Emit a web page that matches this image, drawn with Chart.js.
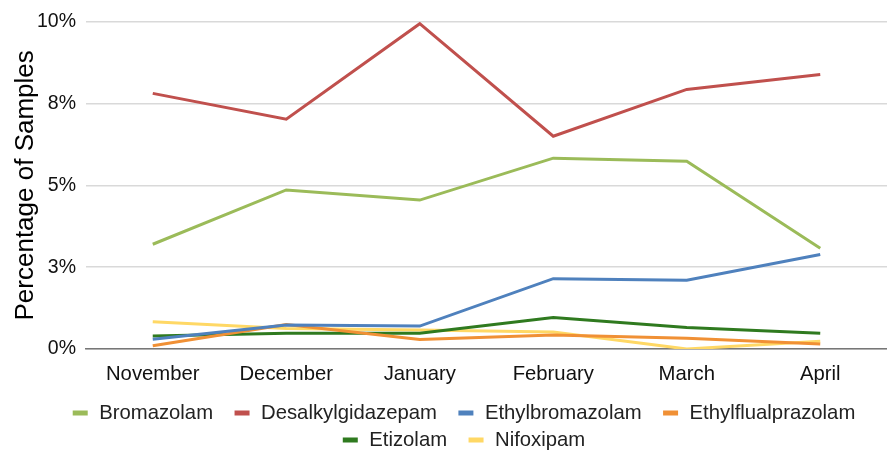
<!DOCTYPE html>
<html>
<head>
<meta charset="utf-8">
<script src="https://cdn.jsdelivr.net/npm/chart.js@4"></script>
<style>
  html, body { margin: 0; padding: 0; background: #fff; }
  #chart { display: block; }
</style>
</head>
<body>
<canvas id="chart" width="887" height="451"></canvas>
<script>
// months on the x axis
const months = ["November", "December", "January", "February", "March", "April"];

// percentage of samples
const bromazolam = [3.2, 4.86, 4.55, 5.83, 5.74, 3.08];
const desalkylgidazepam = [7.81, 7.02, 9.94, 6.5, 7.93, 8.39];
const ethylbromazolam = [0.3, 0.73, 0.7, 2.15, 2.1, 2.89];
const ethylflualprazolam = [0.1, 0.75, 0.29, 0.43, 0.33, 0.15];
const etizolam = [0.4, 0.48, 0.48, 0.96, 0.66, 0.48];
const nifoxipam = [0.83, 0.63, 0.58, 0.52, 0.0, 0.24];

const yTickValues = [0, 2.5, 5, 7.5, 10];
const yTickLabels = ["0%", "3%", "5%", "8%", "10%"];

const series = [
    { label: "Bromazolam", data: bromazolam, color: "#9BBB59" },
    { label: "Desalkylgidazepam", data: desalkylgidazepam, color: "#C0504D" },
    { label: "Ethylbromazolam", data: ethylbromazolam, color: "#4F81BD" },
    { label: "Ethylflualprazolam", data: ethylflualprazolam, color: "#F09035" },
    { label: "Etizolam", data: etizolam, color: "#2F7A1F" },
    { label: "Nifoxipam", data: nifoxipam, color: "#FFD865" },
];

const fontFamily = "'Liberation Sans', Arial, sans-serif";
const tickFontSize = 19.5;
const labelFontSize = 20.3;

// legend drawn by hand: the built-in one ties row spacing to item spacing
const LEGEND = {
    centerX: 464,
    firstRowY: 413,
    rowStep: 27,
    maxRowWidth: 830,
    boxW: 15,
    boxH: 5,
    boxGap: 11.5,
    itemGap: 21.5,
};

const bottomLegend = {
    id: "bottomLegend",
    afterDraw(chart) {
        const ctx = chart.ctx;
        ctx.save();
        ctx.font = `${labelFontSize}px ${fontFamily}`;
        ctx.textBaseline = "middle";
        ctx.textAlign = "left";

        // split into rows
        const rows = [[]];
        let rowWidth = 0;
        chart.data.datasets.forEach((ds) => {
            const w = LEGEND.boxW + LEGEND.boxGap + ctx.measureText(ds.label).width;
            const extra = rows[rows.length - 1].length ? LEGEND.itemGap + w : w;
            if (rowWidth + extra > LEGEND.maxRowWidth && rows[rows.length - 1].length) {
                rows.push([]);
                rowWidth = w;
            } else {
                rowWidth += extra;
            }
            rows[rows.length - 1].push({ ds, w });
        });

        rows.forEach((row, r) => {
            const total = row.reduce((s, it) => s + it.w, 0) + LEGEND.itemGap * (row.length - 1);
            let x = LEGEND.centerX - total / 2;
            const y = LEGEND.firstRowY + r * LEGEND.rowStep;
            row.forEach((it) => {
                ctx.fillStyle = it.ds.borderColor;
                ctx.fillRect(x, y - LEGEND.boxH / 2, LEGEND.boxW, LEGEND.boxH);
                ctx.fillStyle = "#222";
                ctx.fillText(it.ds.label, x + LEGEND.boxW + LEGEND.boxGap, y);
                x += it.w + LEGEND.itemGap;
            });
        });
        ctx.restore();
    },
};

new Chart(document.getElementById("chart"), {
    type: "line",
    data: {
        labels: months,
        datasets: series.map((s) => ({
            label: s.label,
            data: s.data,
            borderColor: s.color,
            backgroundColor: s.color,
            borderWidth: 3,
            pointRadius: 0,
            tension: 0,
        })),
    },
    plugins: [bottomLegend],
    options: {
        responsive: false,
        animation: false,
        layout: { padding: { top: 11, right: 0, left: 0, bottom: 58 } },
        plugins: {
            legend: { display: false },
            tooltip: { enabled: false },
        },
        scales: {
            x: {
                offset: true,
                grid: { display: false, drawTicks: false },
                border: { color: "#777", width: 1.5 },
                ticks: {
                    color: "#111",
                    font: { family: fontFamily, size: labelFontSize },
                    padding: 13,
                    maxRotation: 0,
                },
                afterFit: (scale) => { scale.height = 44; },
            },
            y: {
                min: 0,
                max: 10,
                afterBuildTicks: (scale) => {
                    scale.ticks = yTickValues.map((v) => ({ value: v }));
                },
                grid: { color: "#d9d9d9", lineWidth: 1.5, drawTicks: false },
                border: { display: false },
                ticks: {
                    color: "#111",
                    font: { family: fontFamily, size: tickFontSize },
                    padding: 10,
                    callback: (value) => yTickLabels[yTickValues.indexOf(value)],
                },
                title: {
                    display: true,
                    text: "Percentage of Samples",
                    color: "#000",
                    font: { family: fontFamily, size: 26 },
                    padding: { top: 10, bottom: 0 },
                },
                afterFit: (scale) => { scale.width = 86; },
            },
        },
    },
});
</script>
</body>
</html>
